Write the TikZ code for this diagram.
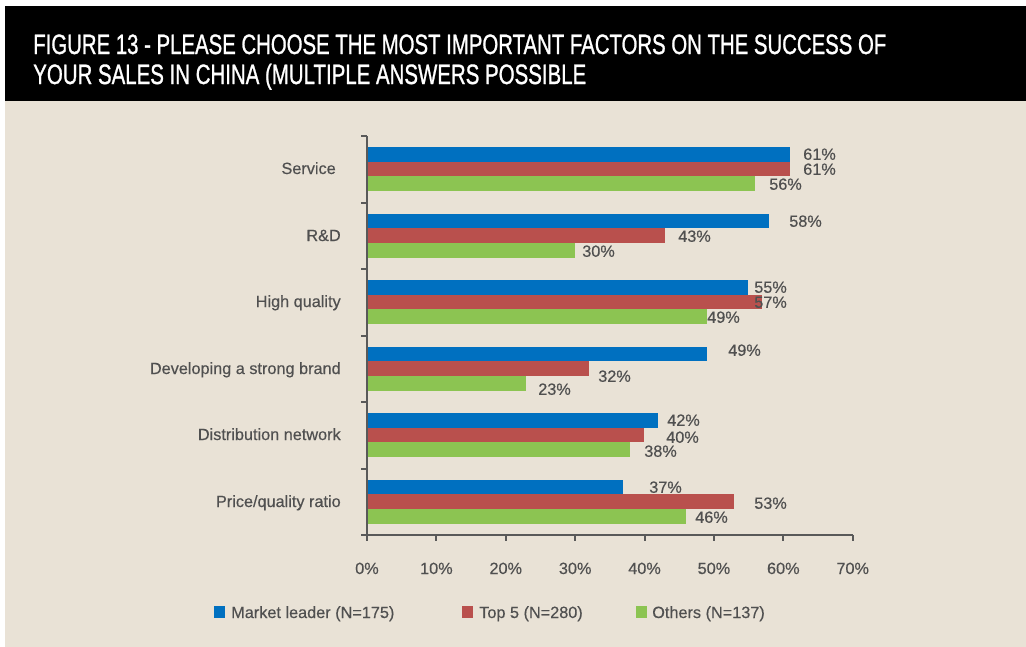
\documentclass[tikz,border=0pt]{standalone}
\usepackage{fontspec}
\setmainfont{Liberation Sans}
\newfontfamily\titlefont[FakeBold=1.2]{Liberation Sans}
\newfontfamily\lblfont[FakeBold=0.4]{Liberation Sans}
\usepackage{graphicx}
\definecolor{beige}{HTML}{E9E2D6}
\definecolor{cblue}{HTML}{0070C0}
\definecolor{cred}{HTML}{B9504D}
\definecolor{cgreen}{HTML}{8CC452}
\definecolor{axisgray}{HTML}{595959}
\definecolor{txtgray}{HTML}{505050}
\begin{document}
\begin{tikzpicture}[x=0.75pt,y=-0.75pt,
  lbl/.style={text=txtgray,font=\lblfont\fontsize{12.2}{14}\selectfont,inner sep=0pt},
  axisline/.style={draw=axisgray,line width=1.5pt},
  titletext/.style={text=white,inner sep=0pt,anchor=base west}]
\useasboundingbox (0,0) rectangle (1026,647);
\fill[white] (0,0) rectangle (1026,647);
\fill[beige] (5,101) rectangle (1026,647);
\fill[black] (5,6) rectangle (1026,101);
\node[titletext] (t1) at (33,54) {\resizebox{639.75pt}{\height}{\titlefont\fontsize{21}{24}\selectfont FIGURE 13 - PLEASE CHOOSE THE MOST IMPORTANT FACTORS ON THE SUCCESS OF}};
\node[titletext] (t2) at (33,84) {\resizebox{414.75pt}{\height}{\titlefont\fontsize{21}{24}\selectfont YOUR SALES IN CHINA (MULTIPLE ANSWERS POSSIBLE}};
% bars
\foreach \i/\b/\r/\g in {0/61/61/56, 1/58/43/30, 2/55/57/49, 3/49/32/23, 4/42/40/38, 5/37/53/46} {
  \pgfmathsetmacro\tp{136+66.5*\i+11}
  \fill[cblue] (367,\tp) rectangle ({367+6.93*\b},{\tp+14.7});
  \fill[cred] (367,{\tp+14.7}) rectangle ({367+6.93*\r},{\tp+29.4});
  \fill[cgreen] (367,{\tp+29.4}) rectangle ({367+6.93*\g},{\tp+44.1});
}
% axes
\draw[axisline] (367,136) -- (367,535) -- (852.7,535);
\foreach \k in {0,...,6} { \draw[axisline] (361,{136+66.5*\k}) -- (367,{136+66.5*\k}); }
\foreach \k in {0,...,7} { \draw[axisline] ({367+69.39*\k},535) -- ({367+69.39*\k},541); }
\foreach \k/\t in {0/0\%,1/10\%,2/20\%,3/30\%,4/40\%,5/50\%,6/60\%,7/70\%} {
  \node[lbl,anchor=base] (tick\k) at ({367+69.39*\k},574) {\t};
}
% category labels
\node[lbl,anchor=base east] (c1) at (336,174) {Service};
\node[lbl,anchor=base east] (c2) at (341,241) {R\&D};
\node[lbl,anchor=base east] (c3) at (341,307) {High quality};
\node[lbl,anchor=base east] (c4) at (341,374) {Developing a strong brand};
\node[lbl,anchor=base east] (c5) at (341,440) {Distribution network};
\node[lbl,anchor=base east] (c6) at (341,507) {Price/quality ratio};
% data labels
\foreach \n/\x/\y/\t in {a1/803/154/61, a2/803/169/61, a3/769/184/56,
  b1/789/221/58, b2/678/236/43, b3/582/251/30,
  d1/754/287/55, d2/754/302/57, d3/707/317/49,
  e1/728/350/49, e2/598/376/32, e3/538/389/23,
  f1/667/420/42, f2/666/437/40, f3/644/451/38,
  g1/649/487/37, g2/754/503/53, g3/695/517/46} {
  \node[lbl,anchor=base west] (\n) at (\x,{\y+5.8}) {\t\%};
}
% legend
\fill[cblue] (214,606) rectangle (225,618);
\node[lbl,anchor=base west] (l1) at (231,618) {Market leader (N=175)};
\fill[cred] (462,606) rectangle (473,618);
\node[lbl,anchor=base west] (l2) at (479,618) {Top 5 (N=280)};
\fill[cgreen] (636,606) rectangle (647,618);
\node[lbl,anchor=base west] (l3) at (652,618) {Others (N=137)};
\end{tikzpicture}
\end{document}
